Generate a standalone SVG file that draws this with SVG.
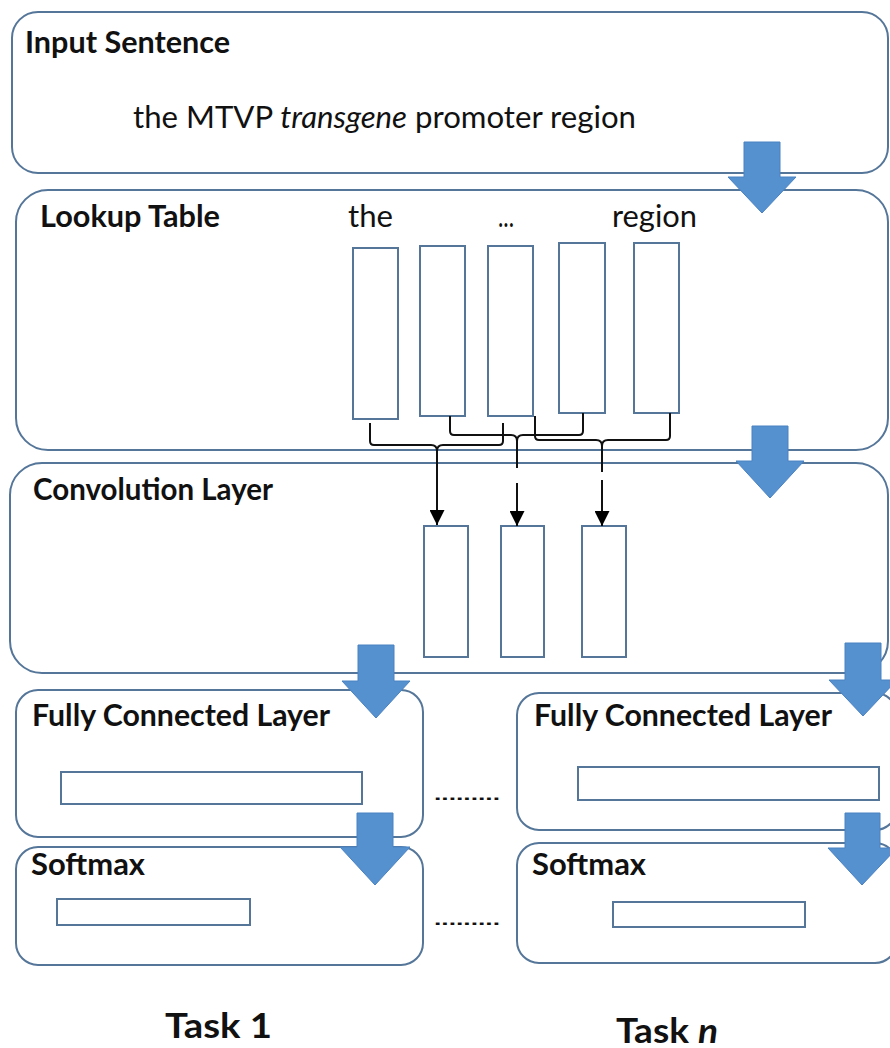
<svg xmlns="http://www.w3.org/2000/svg" width="890" height="1048" viewBox="0 0 890 1048">
<style>
.box{fill:#fff;stroke:#557699;stroke-width:2}
.cell{fill:#fff;stroke:#557699;stroke-width:2}
.h{font-family:Lato,"Liberation Sans",sans-serif;font-weight:bold;font-size:30px;fill:#111}
.task{font-size:35px}
.t{font-family:Lato,"Liberation Sans",sans-serif;font-size:31px;fill:#111}
.dots{font-family:"Liberation Sans",sans-serif;font-weight:bold;font-size:16px;fill:#111}
.blue{fill:#5590CF;stroke:#4a82c2;stroke-width:1}
.br{fill:none;stroke:#111;stroke-width:2}
</style>
<defs>
<marker id="ah" viewBox="0 0 10 10" refX="10" refY="5" markerWidth="17" markerHeight="15" markerUnits="userSpaceOnUse" orient="auto">
<path d="M0,0 L10,5 L0,10 z" fill="#000"/>
</marker>
</defs>
<rect x="0" y="0" width="890" height="1048" fill="#fff"/>

<g id="input-sentence">
<rect class="box" x="12" y="12" width="876" height="161" rx="26"/>
<text class="h" x="25" y="53" textLength="205" lengthAdjust="spacingAndGlyphs">Input Sentence</text>
<text class="t" x="133" y="128" textLength="503" lengthAdjust="spacingAndGlyphs">the MTVP <tspan font-style="italic">transgene</tspan> promoter region</text>
</g>

<g id="lookup-table">
<rect class="box" x="16" y="190" width="872" height="260" rx="32"/>
<text class="h" x="40" y="227" textLength="180" lengthAdjust="spacingAndGlyphs">Lookup Table</text>
<text class="t" x="348" y="227" textLength="45" lengthAdjust="spacingAndGlyphs">the</text>
<text class="t" x="498" y="227" textLength="16" lengthAdjust="spacingAndGlyphs">...</text>
<text class="t" x="612" y="227" textLength="85" lengthAdjust="spacingAndGlyphs">region</text>
<rect class="cell" x="353" y="248" width="45" height="171"/>
<rect class="cell" x="420" y="246" width="45" height="170"/>
<rect class="cell" x="488" y="246" width="45" height="170"/>
<rect class="cell" x="559" y="243" width="46" height="170"/>
<rect class="cell" x="634" y="243" width="45" height="170"/>
</g>

<g id="convolution-layer">
<rect class="box" x="10" y="463" width="878" height="210" rx="32"/>
<text class="h" x="33" y="500" textLength="240" lengthAdjust="spacingAndGlyphs">Convolution Layer</text>
<rect class="cell" x="424" y="526" width="44" height="131"/>
<rect class="cell" x="501" y="526" width="43" height="131"/>
<rect class="cell" x="582" y="526" width="44" height="131"/>
</g>

<g id="fc-1">
<rect class="box" x="16" y="690" width="407" height="147" rx="22"/>
<text class="h" x="32" y="726" textLength="298" lengthAdjust="spacingAndGlyphs">Fully Connected Layer</text>
<rect class="cell" x="61" y="772" width="301" height="32"/>
</g>

<g id="fc-n">
<rect class="box" x="517" y="693" width="380" height="137" rx="22"/>
<text class="h" x="534" y="726" textLength="298" lengthAdjust="spacingAndGlyphs">Fully Connected Layer</text>
<rect class="cell" x="578" y="767" width="301" height="33"/>
</g>

<g id="softmax-1">
<rect class="box" x="16" y="847" width="407" height="118" rx="22"/>
<text class="h" x="31" y="875" textLength="114" lengthAdjust="spacingAndGlyphs">Softmax</text>
<rect class="cell" x="57" y="899" width="193" height="26"/>
</g>

<g id="softmax-n">
<rect class="box" x="517" y="843" width="380" height="120" rx="22"/>
<text class="h" x="532" y="875" textLength="114" lengthAdjust="spacingAndGlyphs">Softmax</text>
<rect class="cell" x="613" y="902" width="192" height="25"/>
</g>

<g id="ellipses">
<text class="dots" x="434" y="800" textLength="66" lengthAdjust="spacingAndGlyphs">.........</text>
<text class="dots" x="434" y="925" textLength="66" lengthAdjust="spacingAndGlyphs">.........</text>
</g>

<g id="task-labels">
<text class="h task" x="165" y="1038" textLength="107" lengthAdjust="spacingAndGlyphs">Task 1</text>
<text class="h task" x="616" y="1043" textLength="102" lengthAdjust="spacingAndGlyphs">Task <tspan font-style="italic">n</tspan></text>
</g>

<g id="connectors">
<path class="br" d="M370,423 V441 Q370,445 374,445 H431 Q437,445 437,451 Q437,445 443,445 H499 Q503,445 503,441 V423"/>
<path class="br" d="M450,416 V431 Q450,435 454,435 H511 Q517,435 517,441 Q517,435 523,435 H579 Q583,435 583,431 V413"/>
<path class="br" d="M535,416 V436 Q535,440 539,440 H596 Q602,440 602,446 Q602,440 608,440 H666 Q670,440 670,436 V413"/>
<line class="br" x1="437" y1="451" x2="437" y2="525" marker-end="url(#ah)"/>
<line class="br" x1="517" y1="441" x2="517" y2="468"/>
<line class="br" x1="517" y1="483" x2="517" y2="526" marker-end="url(#ah)"/>
<line class="br" x1="602" y1="446" x2="602" y2="472"/>
<line class="br" x1="602" y1="480" x2="602" y2="526" marker-end="url(#ah)"/>

<path class="blue" d="M744,142 H780 V177 H796 L762,213 L728,177 H744 Z"/>
<path class="blue" d="M752,426 H788 V461 H804 L770,498 L736,461 H752 Z"/>
<path class="blue" d="M358,645 H394 V681 H410 L376,718 L342,681 H358 Z"/>
<path class="blue" d="M845,643 H881 V680 H897 L863,716 L829,680 H845 Z"/>
<path class="blue" d="M357,813 H393 V847 H410 L375,885 L340,847 H357 Z"/>
<path class="blue" d="M845,813 H880 V848 H897 L862,885 L828,848 H845 Z"/>
</g>
</svg>
